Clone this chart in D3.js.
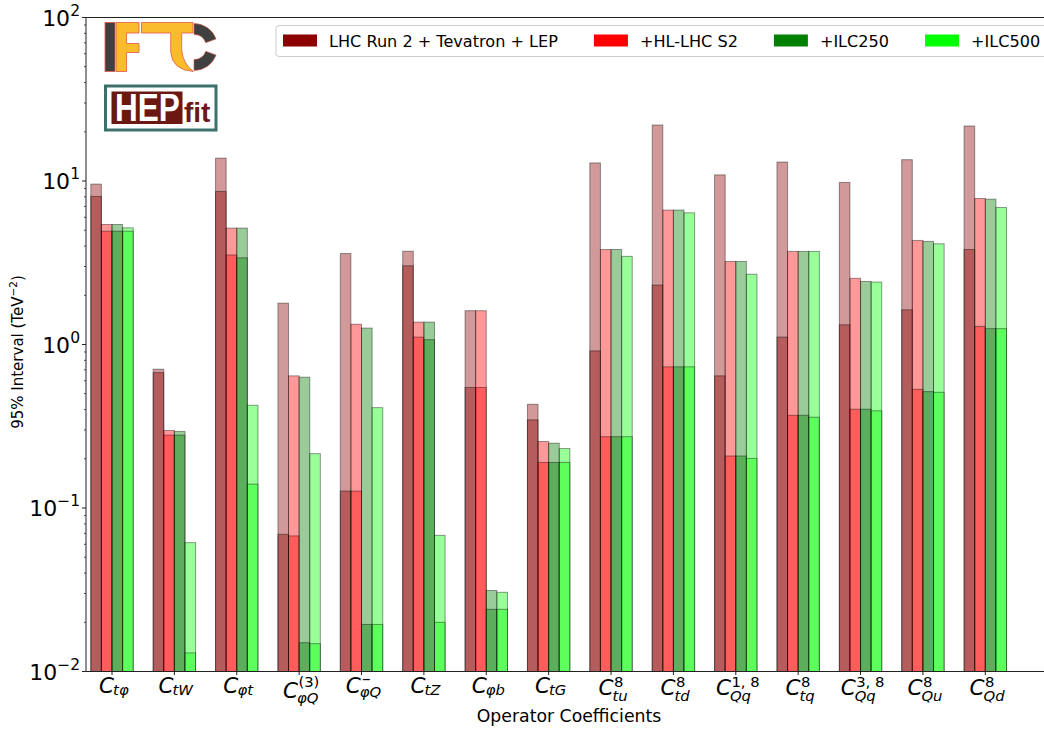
<!DOCTYPE html>
<html><head><meta charset="utf-8">
<script src="https://cdn.jsdelivr.net/npm/d3@7"></script>
<style>body{margin:0;background:#fff} svg{display:block;font-family:"DejaVu Sans",sans-serif}</style>
</head><body><svg id="c" width="1044" height="729"></svg>
<script>
// ---------- data ----------
const labelSub = ["tφ","tW","φt","φQ","φQ","tZ","φb","tG","tu","td","Qq","tq","Qq","Qu","Qd"];
const labelSup = ["","","","(3)","‾","","","","8","8","1, 8","8","3, 8","8","8"];
const scenarios = ["LHC Run 2 + Tevatron + LEP", "+HL-LHC S2", "+ILC250", "+ILC500"];
const scenarioColors = ["#8b0000", "#ff0000", "#008000", "#00ff00"];
// taller (light) and shorter (dark overlap) intervals, TeV^-2
const globalLHC = [9.57, 0.706, 13.8, 1.79, 3.60, 3.72, 1.61, 0.431, 12.9, 22.0, 10.9, 13.06, 9.80, 13.5, 21.7];
const indivLHC  = [8.05, 0.673, 8.63, 0.069, 0.127, 3.03, 0.546, 0.346, 0.914, 2.31, 0.643, 1.11, 1.32, 1.63, 3.81];
const globalHL  = [5.42, 0.298, 5.15, 0.643, 1.33, 1.37, 1.61, 0.255, 3.81, 6.64, 3.22, 3.71, 2.54, 4.33, 7.82];
const indivHL   = [4.93, 0.279, 3.53, 0.0675, 0.127, 1.11, 0.546, 0.190, 0.273, 0.730, 0.208, 0.369, 0.402, 0.532, 1.29];
const global250 = [5.42, 0.294, 5.15, 0.631, 1.26, 1.37, 0.0313, 0.249, 3.81, 6.64, 3.22, 3.71, 2.43, 4.27, 7.74];
const indiv250  = [4.93, 0.279, 3.39, 0.0150, 0.0194, 1.07, 0.024, 0.190, 0.273, 0.730, 0.208, 0.369, 0.402, 0.515, 1.25];
const global500 = [5.17, 0.0614, 0.425, 0.215, 0.411, 0.068, 0.0305, 0.231, 3.46, 6.39, 2.69, 3.71, 2.41, 4.13, 6.89];
const indiv500  = [4.93, 0.0130, 0.140, 0.0148, 0.0194, 0.020, 0.024, 0.190, 0.273, 0.730, 0.201, 0.359, 0.393, 0.510, 1.25];
const yTickExp = ["2", "1", "0", "−1", "−2"];
const yTickVals = [1e2, 1e1, 1e0, 1e-1, 1e-2];

const series = [
  {name: scenarios[0], color: scenarioColors[0], glob: globalLHC, ind: indivLHC},
  {name: scenarios[1], color: scenarioColors[1], glob: globalHL, ind: indivHL},
  {name: scenarios[2], color: scenarioColors[2], glob: global250, ind: indiv250},
  {name: scenarios[3], color: scenarioColors[3], glob: global500, ind: indiv500}
];

// ---------- layout ----------
const svg = d3.select("#c");
const L = 86, T = 17.5, B = 671.5, R = 1052;
const y = d3.scaleLog().domain([1e-2, 1e2]).range([B, T]);
const x = d3.scaleLinear().domain([0, 14]).range([112, 985.3]);
const bw = 0.17;

const clip = svg.append("defs").append("clipPath").attr("id","pc");
clip.append("rect").attr("x",L).attr("y",T).attr("width",R-L).attr("height",B-T);

// bars
const barsG = svg.append("g").attr("clip-path","url(#pc)");
series.forEach((s, k) => {
  ["glob","ind"].forEach(key => {
    barsG.append("g").selectAll("rect").data(s[key]).join("rect")
      .attr("x", (d,i) => x(i + (k-2)*bw))
      .attr("width", (d,i) => x(i + (k-1)*bw) - x(i + (k-2)*bw))
      .attr("y", d => y(d))
      .attr("height", d => y(1e-2) - y(d))
      .attr("fill", s.color).attr("fill-opacity", 0.4)
      .attr("stroke", "#000").attr("stroke-opacity", 0.4).attr("stroke-width", 1);
  });
});

// spines
svg.append("line").attr("x1",L).attr("x2",1044).attr("y1",T).attr("y2",T).attr("stroke","#222").attr("stroke-width",1);
svg.append("line").attr("x1",L).attr("x2",1044).attr("y1",B).attr("y2",B).attr("stroke","#222").attr("stroke-width",1);
svg.append("line").attr("x1",L).attr("x2",L).attr("y1",T).attr("y2",B).attr("stroke","#444").attr("stroke-width",1.2);

// y ticks
const minor = [];
for (let e = -2; e < 2; e++) for (let m = 2; m <= 9; m++) minor.push(m * Math.pow(10, e));
svg.append("g").selectAll("line").data(minor).join("line")
  .attr("x1", L-2).attr("x2", L).attr("y1", d=>y(d)).attr("y2", d=>y(d)).attr("stroke","#222").attr("stroke-width",0.8);
svg.append("g").selectAll("line").data(yTickVals).join("line")
  .attr("x1", L-4).attr("x2", L).attr("y1", d=>y(d)).attr("y2", d=>y(d)).attr("stroke","#222").attr("stroke-width",1);
const yl = svg.append("g").selectAll("text").data(yTickVals).join("text")
  .attr("x", 80).attr("y", d => y(d) + 8).attr("text-anchor","end").attr("font-size",22).attr("fill","#000");
yl.append("tspan").text("10");
yl.append("tspan").attr("dy",-10).attr("font-size",15.5).text((d,i)=>yTickExp[i]);

// x ticks
svg.append("g").selectAll("line").data(labelSub).join("line")
  .attr("x1",(d,i)=>x(i)).attr("x2",(d,i)=>x(i)).attr("y1",B).attr("y2",B+3.5).attr("stroke","#222");

labelSub.forEach((sub, i) => {
  const sup = labelSup[i];
  let cBase, subBase, supBase;
  if (sup === "(3)") { cBase = 697.5; subBase = 703; supBase = 687; }
  else if (sup === "‾") { cBase = 693; subBase = 697; supBase = 683; }
  else if (sup !== "") { cBase = 695; subBase = 700.5; supBase = 686.5; }
  else { cBase = 692.5; subBase = 694.8; supBase = 0; }
  const t = svg.append("text");
  t.append("tspan").attr("x",0).attr("y",cBase).attr("font-size",21.5).attr("font-style","italic").text("C");
  const cw = t.node().getComputedTextLength();
  t.append("tspan").attr("x",cw-1).attr("y",subBase).attr("font-size",14.8).attr("font-style","italic").text(sub);
  if (sup === "‾") {
    t.append("tspan").attr("x",cw+1).attr("y",supBase).attr("font-size",11).attr("font-weight","bold").text("−");
  } else if (sup !== "") {
    t.append("tspan").attr("x",cw+0.5).attr("y",supBase).attr("font-size",14.8).text(sup);
  }
  const bb = t.node().getBBox();
  t.attr("transform", `translate(${x(i) - (bb.x + bb.width/2) + 2},0)`);
});

// axis titles
svg.append("text").attr("x", 569).attr("y", 722).attr("text-anchor","middle").attr("font-size",17.3).text("Operator Coefficients");
const yt = svg.append("text").attr("transform","translate(23,352) rotate(-90)").attr("text-anchor","middle").attr("font-size",15).attr("fill","#000");
yt.append("tspan").text("95% Interval (TeV");
yt.append("tspan").attr("dy",-6).attr("font-size",10.5).text("−2");
yt.append("tspan").attr("dy",6).text(")");

// legend
const lg = svg.append("g");
const box = lg.append("rect").attr("x",276).attr("y",25.5).attr("height",31).attr("rx",3)
  .attr("fill","#fff").attr("fill-opacity",0.8).attr("stroke","#cccccc").attr("stroke-width",1);
let cx = 283;
scenarios.forEach((name, k) => {
  lg.append("rect").attr("x",cx).attr("y",34.5).attr("width",34).attr("height",12).attr("fill",scenarioColors[k]);
  const t = lg.append("text").attr("x",cx+46).attr("y",46.5).attr("font-size",16.1).text(name);
  cx = cx + 46 + t.node().getComputedTextLength() + 36;
});
box.attr("width", cx - 36 + 7 - 276);

// logos
const lo = svg.append("g");
lo.append("rect").attr("x",105).attr("y",22.5).attr("width",10).attr("height",49).attr("fill","#404040").attr("stroke","#e0584a").attr("stroke-width",0.8);
lo.append("path").attr("d","M116,22.5 H139 V33 H126.5 V43.5 H139 V52.5 H126.5 V71.5 H116 Z").attr("fill","#fbbc2c").attr("stroke","#e0584a").attr("stroke-width",0.8);
lo.append("path").attr("d","M141.5,22.5 H193 V33 H181.7 V50 Q183,64 193.5,71.5 Q172,70 170.7,52 V33 H141.5 Z").attr("fill","#fbbc2c").attr("stroke","#e0584a").attr("stroke-width",0.8);
const arc = d3.arc().innerRadius(12.5).outerRadius(23.5);
lo.append("path").attr("transform","translate(194,47)").attr("d", arc({startAngle:0, endAngle:1.22})).attr("fill","#404040").attr("stroke","#e0584a").attr("stroke-width",0.6);
lo.append("path").attr("transform","translate(194,47)").attr("d", arc({startAngle:1.92, endAngle:Math.PI})).attr("fill","#404040").attr("stroke","#e0584a").attr("stroke-width",0.6);
lo.append("rect").attr("x",105.5).attr("y",86).attr("width",110.5).attr("height",44).attr("fill","#fff").attr("stroke","#3b706d").attr("stroke-width",3);
lo.append("rect").attr("x",111.5).attr("y",91.5).attr("width",71).attr("height",32.5).attr("fill","#6b1812");
lo.append("g").attr("transform","translate(115,120.5) scale(0.83,1)")
  .append("text").attr("x",0).attr("y",0).attr("font-family","Liberation Sans, Arial, sans-serif").attr("font-weight","bold")
  .attr("font-size",38).attr("fill","#fff").text("HEP");
lo.append("text").attr("x",184).attr("y",121.5).attr("font-family","Liberation Sans, Arial, sans-serif").attr("font-weight","bold")
  .attr("font-size",28).attr("fill","#6b1812").text("fit");
</script></body></html>
